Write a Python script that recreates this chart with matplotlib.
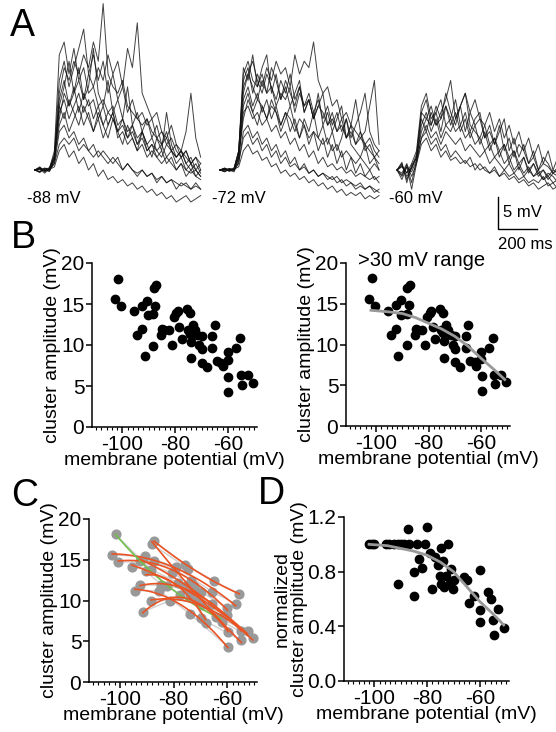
import numpy as np
import matplotlib
matplotlib.use('Agg')
import matplotlib.pyplot as plt
from matplotlib.ticker import MultipleLocator, FormatStrFormatter

plt.rcParams['font.family'] = ['Liberation Sans', 'DejaVu Sans']
plt.rcParams['axes.unicode_minus'] = False

# ---------------- 数据 ----------------
# A: 三组电压下的叠加记录 (mV, 相对基线)，每组采样步长不同
trace_step = [25, 24, 25]          # ms
trace_start = [179, 1128, 2036]    # ms
trace_labels = ['-88 mV', '-72 mV', '-60 mV']

traces_88 = [
    [0, 0.5, -0.3, 0.4, 2, 12, 16, 14, 17, 15, 18, 16, 20, 17, 26, 15, 13, 12, 14, 10, 9, 8, 7, 8, 6, 5, 4, 5, 3, 2, 3, 1, 0, 1, -0.5],
    [0, -0.4, 0.3, 0, 1.5, 10, 13, 17, 12, 14, 11, 15, 13, 16, 14, 18, 15, 17, 13, 19, 16, 23, 12, 10, 8, 9, 6, 5, 7, 4, 3, 2, 1, 0, -1],
    [0, 0.2, -0.5, 0.3, 3, 18, 20, 15, 19, 14, 16, 12, 13, 10, 11, 9, 10, 7, 8, 6, 7, 5, 6, 4, 5, 3, 4, 2, 3, 1, 2, 0, 1, -1, 0],
    [0, 0.3, 0, -0.2, 2, 9, 11, 8, 10, 12, 9, 11, 8, 10, 7, 9, 8, 6, 7, 5, 6, 4, 5, 3, 4, 3, 2, 4, 3, 2, 3, 6, 12, 5, 2],
    [0, -0.3, 0.2, 0, 1, 6, 7, 5, 6, 4, 5, 3, 4, 2, 3, 2, 1, 2, 0, 1, 0, -1, 0, -1, -0.5, -2, -1, -2, -1.5, -3, -2, -2.5, -3, -2, -3],
    [0, 0.2, -0.2, 0.1, 0.5, 3, 4, 2, 3, 1, 2, 0, 1, -1, 0, -1.5, -1, -2, -1.5, -2.5, -2, -3, -2.5, -3.5, -3, -4, -3.5, -4.5, -4, -5, -4.5, -4, -5, -4.5, -4],
    [0, 0.4, 0, 0.2, 2.5, 14, 17, 13, 16, 19, 22, 15, 18, 14, 17, 12, 15, 11, 13, 9, 11, 8, 9, 7, 8, 5, 6, 4, 5, 3, 2, 3, 1, 2, 0],
    [0, -0.2, 0.3, 0, 1.8, 8, 12, 10, 13, 9, 12, 10, 11, 8, 10, 7, 9, 6, 8, 5, 7, 4, 6, 3, 4, 2, 3, 1, 2, 0, 1, -1, 0, -1, -1.5],
    [0, 0.2, 0, -0.2, 1.5, 7, 9, 6, 8, 10, 7, 9, 6, 8, 5, 7, 9, 5, 6, 4, 5, 3, 4, 2, 3, 2, 1, 2, 1, 0, 1, 0, -0.5, 0, -1],
    [0, -0.3, 0.2, 0.3, 2, 11, 14, 10, 12, 16, 11, 13, 19, 12, 10, 14, 9, 11, 8, 13, 7, 9, 6, 8, 5, 7, 4, 6, 3, 4, 2, 3, 1, 2, 1],
    [0, 0.1, -0.1, 0.2, 1, 4, 5, 4, 5, 3, 4, 3, 2, 3, 2, 1, 2, 1, 0, 1, 0, -0.5, 0, -1, -0.5, -1.5, -1, -2, -1.5, -2, -2.5, -2, -3, -2.5, -3],
    [0, 0.3, -0.1, 0, 2.2, 10, 8, 11, 9, 7, 10, 8, 6, 9, 7, 5, 8, 6, 4, 7, 5, 3, 6, 4, 2, 5, 3, 9, 4, 2, 3, 1, 2, 0, 1],
]
traces_72 = [
    [0, 0.3, -0.2, 0.2, 3, 14, 16, 12, 15, 13, 16, 14, 17, 15, 16, 13, 18, 15, 17, 16, 20, 14, 12, 13, 10, 11, 8, 9, 7, 6, 5, 4, 3, 2, 1],
    [0, -0.2, 0.2, 0, 2, 12, 15, 13, 11, 14, 12, 13, 10, 12, 11, 13, 9, 12, 10, 11, 8, 10, 9, 7, 8, 6, 7, 5, 6, 4, 5, 6, 10, 14, 4],
    [0, 0.2, 0, -0.3, 1.5, 10, 12, 9, 11, 10, 8, 10, 9, 7, 9, 8, 6, 8, 7, 5, 6, 5, 4, 5, 3, 4, 2, 3, 2, 1, 2, 1, 0, 1, 0],
    [0, 0.1, -0.1, 0.2, 2.5, 15, 17, 14, 13, 16, 18, 12, 15, 11, 14, 12, 10, 13, 9, 11, 8, 12, 7, 9, 6, 8, 10, 5, 7, 4, 6, 3, 4, 2, 3],
    [0, -0.2, 0.1, 0, 1, 6, 7, 5, 6, 4, 5, 3, 4, 2, 3, 1, 2, 0, 1, -0.5, 0, -1, -0.5, -1.5, -1, -2, -1.5, -2.5, -2, -3, -2.5, -3, -2.5, -3.5, -3],
    [0, 0.2, -0.1, 0.1, 0.5, 3, 4, 2.5, 3, 1.5, 2, 0.5, 1, -0.5, 0, -1, -0.5, -1.5, -1, -2, -1.5, -2.5, -2, -3, -2.5, -3.5, -3, -4, -3.5, -4, -3.5, -4.5, -4, -4.5, -4],
    [0, 0.3, 0, 0.1, 3, 13, 15, 17, 14, 12, 15, 13, 11, 14, 12, 15, 11, 13, 10, 12, 9, 11, 8, 10, 7, 9, 6, 8, 5, 7, 9, 12, 6, 4, 3],
    [0, -0.1, 0.2, 0, 2, 9, 10, 8, 9, 7, 8, 6, 7, 5, 6, 4, 5, 3, 4, 2, 3, 1, 2, 0.5, 1, 0, 0.5, -0.5, 0, -1, -0.5, -1, -1.5, -1, -2],
    [0, 0.2, -0.2, 0.1, 2, 11, 13, 10, 12, 9, 11, 8, 10, 7, 9, 6, 8, 5, 7, 4, 6, 3, 5, 2, 4, 1, 3, 0, 2, -0.5, 1, -1, 0, -1.5, -1],
    [0, -0.3, 0.1, 0.3, 2.8, 16, 14, 18, 13, 15, 12, 16, 14, 11, 13, 10, 12, 14, 9, 11, 8, 10, 12, 7, 9, 6, 8, 5, 7, 11, 6, 4, 5, 3, 2],
    [0, 0.1, 0.2, -0.1, 1.2, 5, 6, 4, 5, 3, 4, 2, 3, 1, 2, 0.5, 1, 0, 0.5, -0.5, 0, -1, -0.5, -1, -1.5, -1, -2, -1.5, -2, -2.5, -2, -3, -2.5, -3, -3.5],
    [0, 0.2, -0.1, 0.2, 2, 8, 11, 9, 7, 10, 8, 11, 9, 6, 8, 10, 7, 5, 8, 6, 9, 5, 7, 4, 6, 3, 5, 8, 4, 3, 2, 4, 1, 2, 0],
]
traces_60 = [
    [0, 1, -1.5, 0.5, 2, 9, 8, 10, 7, 9, 11, 14, 8, 10, 12, 9, 11, 8, 7, 9, 6, 8, 5, 7, 4, 6, 3, 5, 2, 4, 1, 3, 0, 2, 1],
    [0, -1, 0.8, -2, 1.5, 7, 9, 6, 8, 5, 7, 6, 8, 10, 12, 7, 6, 5, 7, 4, 5, 3, 4, 2, 3, 1, 2, 0, 1, -0.5, 0, -1, 0, -0.5, -1],
    [0, 0.5, -0.5, 1, 3, 10, 12, 8, 9, 11, 7, 8, 6, 7, 5, 6, 4, 5, 3, 4, 2, 3, 1, 2, 0, 1, -0.5, 0.5, -1, 0, -1.5, -0.5, -1, -2, -1],
    [0, -0.5, 1, -1, 1, 4, 5, 3, 4, 2, 3, 1.5, 2, 1, 1.5, 0.5, 1, 0, 0.5, -0.5, 0, -1, -0.5, -1.5, -1, -2, -1.5, -2.5, -2, -3, -2.5, -2, -3, -2.5, -3],
    [0, 0.8, -1, 0.2, 2, 6, 8, 7, 9, 6, 10, 8, 11, 7, 9, 6, 8, 9, 5, 7, 4, 6, 8, 3, 5, 2, 4, 1, 3, 0, 2, 1, -0.5, 0.5, 0],
    [0, -0.8, 0.5, -0.3, 1.5, 5, 7, 5, 6, 4, 6, 5, 4, 5, 3, 4, 3, 2, 3, 1, 2, 1, 0, 1, -0.5, 0.5, -1, 0, -1, -0.5, -1.5, -1, -2, -1.5, -2],
    [0, 1.2, -2, 0.8, 1.8, 8, 6, 9, 7, 8, 10, 7, 9, 6, 8, 5, 7, 4, 6, 3, 5, 2, 4, 1, 3, 0, 2, -0.5, 1, -1, 0, -1.5, -0.5, -1, -2],
    [0, -1.5, 0.5, -3, 1, 5, 6, 4, 5, 3, 4, 2, 3, 2, 1, 2, 0, 1, 0, -0.5, 0.5, -1, 0, -1, -0.5, -1.5, -1, -2, -1.5, -2, -1, -2.5, -2, -3, -2],
    [0, 0.6, -0.4, 0.3, 2.5, 9, 11, 7, 10, 8, 12, 9, 7, 10, 6, 9, 7, 8, 5, 6, 4, 7, 3, 5, 2, 4, 3, 1, 2, 0, 1, 0.5, -0.5, 0, -1],
]

# B / C: 膜电位与簇幅值
vm = [-102.9, -101.6, -100.6, -95.6, -94.4, -92.5, -92.5, -91.5, -90.6, -90.4,
      -88.4, -88.1, -88.4, -87.5, -87.3, -85.3, -84.8, -84.1, -82.4, -81.3,
      -80.6, -79.6, -79.1, -78.4, -77.5, -75.6, -75.3, -74.5, -74.4, -74.1,
      -74.0, -73.4, -72.5, -71.6, -70.9, -70.0, -70.0, -70.0, -68.1, -65.9,
      -65.0, -65.9, -64.1, -62.5, -61.9, -60.0, -60.0, -59.8, -59.8, -56.9,
      -55.6, -55.0, -54.8, -52.5, -50.6]
amp = [15.6, 18.1, 14.7, 14.1, 11.2, 11.9, 14.8, 8.6, 15.4, 13.6,
       13.8, 16.9, 9.9, 14.8, 17.3, 11.2, 11.9, 11.8, 11.8, 10.0,
       13.4, 13.9, 14.1, 12.2, 10.7, 14.4, 11.8, 13.9, 11.4, 8.4,
       10.4, 12.4, 11.8, 11.2, 10.0, 11.1, 9.5, 7.8, 7.3, 11.1,
       12.4, 9.6, 8.0, 7.8, 7.4, 9.1, 8.2, 6.1, 4.3, 9.6,
       10.8, 6.3, 5.1, 6.3, 5.4]
# 每个点所属细胞 (C 图)，细胞 3 为绿色
cell = [1, 3, 2, 7, 5, 6, 8, 4, 1, 11,
        7, 9, 10, 2, 0, 5, 6, 11, 3, 4,
        8, 2, 1, 7, 3, 0, 11, 9, 6, 5,
        10, 2, 8, 9, 4, 2, 7, 9, 11, 1,
        0, 6, 8, 3, 10, 2, 7, 4, 5, 1,
        0, 6, 9, 8, 10]

# B 右图拟合曲线
bfit_vm = [-102, -95, -90, -85, -80, -75, -70, -65, -60, -55, -51]
bfit_amp = [14.2, 14.0, 13.8, 13.3, 12.6, 11.9, 11.0, 9.8, 8.3, 6.9, 5.7]

# D: 归一化幅值
norm_vm = [-102.2, -101.0, -100.0, -95.5, -94.3, -92.5, -90.9, -89.8, -88.6, -87.0, -84.0, -81.0,
           -87.2, -80.2, -72.0, -79.0, -77.1, -83.2, -75.3, -74.1, -74.7, -82.0, -85.1, -71.0,
           -75.3, -72.8, -74.7, -73.5, -70.2, -78.0, -90.9, -84.8, -69.8, -66.1, -64.9, -64.3,
           -62.1, -60.0, -60.0, -60.0, -57.0, -56.0, -55.2, -54.8, -53.0, -50.8, -71.5, -76.0]
norm_amp = [1.0, 1.0, 1.0, 1.0, 1.0, 1.0, 1.0, 1.0, 1.0, 1.0, 1.0, 1.0,
            1.11, 1.13, 1.0, 0.94, 0.91, 0.89, 0.87, 0.88, 0.97, 0.83, 0.80, 0.82,
            0.77, 0.77, 0.71, 0.69, 0.67, 0.67, 0.71, 0.62, 0.74, 0.76, 0.74, 0.57,
            0.62, 0.81, 0.52, 0.43, 0.65, 0.60, 0.45, 0.34, 0.53, 0.39, 0.72, 0.85]
dfit_vm = [-102, -95, -90, -85, -80, -75, -70, -65, -60, -55, -51]
dfit_amp = [1.0, 0.99, 0.97, 0.95, 0.92, 0.87, 0.80, 0.69, 0.58, 0.49, 0.41]

# ---------------- 画图 ----------------
W, H = 556, 732
fig = plt.figure(figsize=(W / 100, H / 100), dpi=100)


def px_axes(x0, y0, x1, y1):
    """按像素坐标创建坐标轴"""
    return fig.add_axes([x0 / W, 1 - y1 / H, (x1 - x0) / W, (y1 - y0) / H])


# A 面板
axA = px_axes(0, 0, 556, 240)
axA.set_xlim(0, 556 * 200 / 39)
axA.set_ylim(-70 / 6.4, 170 / 6.4)
axA.axis('off')
for g, group in enumerate([traces_88, traces_72, traces_60]):
    for tr in group:
        t = trace_start[g] + trace_step[g] * np.arange(len(tr))
        axA.plot(t, tr, color='#111111', lw=0.7, alpha=0.8)
for g, lab in enumerate(trace_labels):
    axA.text(trace_start[g] - 41, -4.4, lab, fontsize=12, va='center', ha='left')

# 比例尺
sx = 498 * 200 / 39
axA.plot([sx, sx, sx + 200], [-4.2, -9.2, -9.2], color='black', lw=1, clip_on=False)
axA.text(sx + 25, -6.7, '5 mV', fontsize=12, va='center', ha='left')
axA.text(sx, -10.4, '200 ms', fontsize=12, va='top', ha='left', clip_on=False)


def style_axis(ax, ylim, yticks, fmt=None):
    ax.set_xlim(-111.5, -49)
    ax.set_ylim(*ylim)
    ax.set_xticks([-100, -80, -60])
    ax.xaxis.set_minor_locator(MultipleLocator(2))
    ax.set_yticks(yticks)
    if fmt:
        ax.yaxis.set_major_formatter(FormatStrFormatter(fmt))
    for s in ['top', 'right']:
        ax.spines[s].set_visible(False)
    for s in ['left', 'bottom']:
        ax.spines[s].set_linewidth(1.1)
    ax.tick_params(axis='both', which='major', length=4, width=1.1, labelsize=15, pad=1.5)
    ax.tick_params(axis='x', which='minor', length=1.8, width=0.8)
    ax.set_xlabel('membrane potential (mV)', fontsize=14, labelpad=-1)


# B 左
axB1 = px_axes(92, 263, 257, 427)
axB1.scatter(vm, amp, s=36, color='black', zorder=3, clip_on=False)
style_axis(axB1, (0, 20), [0, 5, 10, 15, 20])
axB1.set_ylabel('cluster amplitude (mV)', fontsize=14, labelpad=0)

# B 右
axB2 = px_axes(346, 263, 510, 426)
axB2.scatter(vm, amp, s=36, color='black', zorder=3, clip_on=False)
axB2.plot(bfit_vm, bfit_amp, color='#999999', lw=2, zorder=4)
style_axis(axB2, (0, 20), [0, 5, 10, 15, 20])
axB2.set_ylabel('cluster amplitude (mV)', fontsize=14, labelpad=0)
axB2.text(-107, 20.3, '>30 mV range', fontsize=14.5, va='center', ha='left')

# C
axC = px_axes(89, 519, 257, 682)
vm_a = np.array(vm)
amp_a = np.array(amp)
cell_a = np.array(cell)
for c in np.unique(cell_a):
    m = cell_a == c
    order = np.argsort(vm_a[m])
    xs, ys = vm_a[m][order], amp_a[m][order]
    axC.plot(xs, ys, color='#cfcfcf', lw=1.0, zorder=1)
axC.scatter(vm, amp, s=40, color='#999999', zorder=2, clip_on=False)
for c in np.unique(cell_a):
    m = cell_a == c
    xs, ys = vm_a[m], amp_a[m]
    p = np.polyfit(xs, ys, 2)
    xx = np.linspace(xs.min(), xs.max(), 60)
    col = '#6fbf4a' if c == 3 else '#ea5424'
    axC.plot(xx, np.polyval(p, xx), color=col, lw=1.2, zorder=3)
style_axis(axC, (0, 20), [0, 5, 10, 15, 20])
axC.set_ylabel('cluster amplitude (mV)', fontsize=14, labelpad=0)

# D
axD = px_axes(344, 517, 509, 681)
axD.scatter(norm_vm, norm_amp, s=36, color='black', zorder=3, clip_on=False)
axD.plot(dfit_vm, dfit_amp, color='#999999', lw=2, zorder=4)
style_axis(axD, (0, 1.2), [0.0, 0.4, 0.8, 1.2], '%.1f')
# 两行 y 轴标题分开放，避免与字母 D 重叠
fig.text(282 / W, 1 - 599 / H, 'normalized', rotation=90, fontsize=14,
         ha='center', va='center')
fig.text(300 / W, 1 - 599 / H, 'cluster amplitude (mV)', rotation=90, fontsize=14,
         ha='center', va='center')

# 面板字母
for lab, x, y in [('A', 10, 8), ('B', 11, 220), ('C', 11, 478), ('D', 258, 476)]:
    fig.text(x / W, 1 - y / H, lab, fontsize=27, va='top', ha='left')

plt.savefig('out.png', dpi=100)
plt.close()
